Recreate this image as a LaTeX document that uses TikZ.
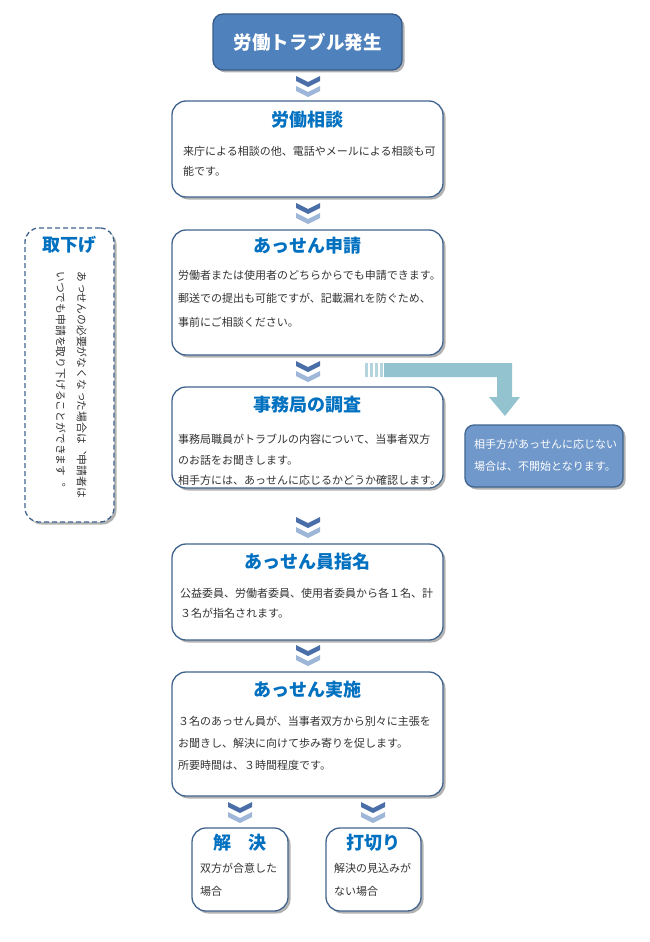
\documentclass[tikz,border=0pt]{standalone}
\usepackage{fontspec}
\setmainfont{Noto Sans CJK JP}
\newfontfamily\vjp[Vertical=RotatedGlyphs]{Noto Sans CJK JP}
\usetikzlibrary{shadows}
\definecolor{bord}{HTML}{41648F}
\definecolor{topfill}{HTML}{4F81BD}
\definecolor{topbord}{HTML}{385D8A}
\definecolor{ttlblue}{HTML}{0070C0}
\definecolor{chevdark}{HTML}{4A6EA8}
\definecolor{chevlight}{HTML}{9EB6D8}
\definecolor{arrowteal}{HTML}{93C3CF}
\definecolor{smallfill}{HTML}{7098CA}
\definecolor{txt}{HTML}{333333}
\tikzset{
  shd/.style={drop shadow={shadow xshift=2.5pt,shadow yshift=-2.5pt,fill=black,opacity=0.3}},
  mainbox/.style={draw=bord, line width=1.3pt, fill=white, rounded corners=14pt, shd, minimum width=271pt},
  ttl/.style={font=\fontsize{18}{20}\selectfont\bfseries, text=ttlblue, inner sep=0pt},
  bodytext/.style={font=\fontsize{11}{#1}\selectfont, text=txt, align=left, text width=268pt, inner sep=0pt, anchor=north west},
  chev/.pic={
    \fill[chevdark] (-12,0) -- (0,6) -- (12,0) -- (12,5) -- (0,11) -- (-12,5) -- cycle;
    \fill[chevlight] (-12,10) -- (0,16) -- (12,10) -- (12,15) -- (0,21) -- (-12,15) -- cycle;
  }
}
\begin{document}
\begin{tikzpicture}[x=1pt,y=-1pt]
\useasboundingbox (0,0) rectangle (650,942);

% top box
\node[draw=topbord, line width=1.3pt, fill=topfill, rounded corners=10pt, shd,
      minimum width=189pt, minimum height=56pt, text=white,
      font=\fontsize{18.5}{20}\selectfont\bfseries] (start) at (307.5,42) {労働トラブル発生};

% chevrons
\pic at (308,76) {chev};
\pic at (308,203) {chev};
\pic at (308,361) {chev};
\pic at (308,517) {chev};
\pic at (308,645) {chev};
\pic at (240,802) {chev};
\pic at (373,802) {chev};

% 労働相談
\node[mainbox, minimum height=96pt] (soudan) at (307.5,149) {};
\node[ttl] (soudanT) at (307.5,120) {労働相談};
\node[bodytext=20pt] (soudanB) at (183,146) {来庁による相談の他、電話やメールによる相談も可\\能です。};

% あっせん申請
\node[mainbox, minimum height=125pt] (shinsei) at (307.5,292.5) {};
\node[ttl] (shinseiT) at (307.5,246) {あっせん申請};
\node[bodytext=23.5pt] (shinseiB) at (178,270) {労働者または使用者のどちらからでも申請できます。\\郵送での提出も可能ですが、記載漏れを防ぐため、\\事前にご相談ください。};

% 事務局の調査
\node[mainbox, minimum height=101pt] (chousa) at (307.5,437.5) {};
\node[ttl] (chousaT) at (307.5,405) {事務局の調査};
\node[bodytext=20.5pt] (chousaB) at (178,434) {事務局職員がトラブルの内容について、当事者双方\\のお話をお聞きします。\\相手方には、あっせんに応じるかどうか確認します。};

% あっせん員指名
\node[mainbox, minimum height=96pt] (shimei) at (307.5,592) {};
\node[ttl] (shimeiT) at (307.5,562) {あっせん員指名};
\node[bodytext=20pt] (shimeiB) at (180,588) {公益委員、労働者委員、使用者委員から各１名、計\\３名が指名されます。};

% あっせん実施
\node[mainbox, minimum height=124pt] (jisshi) at (307.5,734) {};
\node[ttl] (jisshiT) at (307.5,690) {あっせん実施};
\node[bodytext=22pt] (jisshiB) at (178,716) {３名のあっせん員が、当事者双方から別々に主張を\\お聞きし、解決に向けて歩み寄りを促します。\\所要時間は、３時間程度です。};

% 解決
\node[mainbox, minimum width=96pt, minimum height=83pt] (kaiketsu) at (240,869.5) {};
\node[ttl] (kaiketsuT) at (240,843) {解\hspace{0.9em}決};
\node[bodytext=23pt, text width=90pt] (kaiketsuB) at (200,863) {双方が合意した\\場合};

% 打切り
\node[mainbox, minimum width=95pt, minimum height=83pt] (uchikiri) at (373.5,869.5) {};
\node[ttl] (uchikiriT) at (373.5,843) {打切り};
\node[bodytext=23pt, text width=90pt] (uchikiriB) at (334,863) {解決の見込みが\\ない場合};

% 取下げ
\node[draw=bord, line width=1.3pt, dash pattern=on 5pt off 3pt, fill=white, rounded corners=14pt, shd,
      minimum width=89pt, minimum height=294pt] (torisage) at (69.5,375) {};
\node[ttl] (torisageT) at (69.5,245) {取下げ};
\node[rotate=-90, anchor=north west, inner sep=0pt, text=txt, align=left,
      font=\vjp\fontsize{10.8}{21}\selectfont] (torisageB) at (87,271)
      {あっせんの必要がなくなった場合は、申請者は\\いつでも申請を取り下げることができます。};

% 不開始
\node[draw=bord, line width=1.3pt, fill=smallfill, rounded corners=9pt, shd,
      minimum width=158pt, minimum height=62pt] (fukaishi) at (544,456) {};
\node[font=\fontsize{11}{22}\selectfont, text=white, align=left, text width=150pt, inner sep=0pt, anchor=north west]
      (fukaishiB) at (474,439) {相手方があっせんに応じない\\場合は、不開始となります。};

% side arrow
\coordinate (arrS) at (384,363);
\coordinate (arrTip) at (505,416);
\fill[arrowteal] (arrS) -- (512,363) -- (512,397) -- (520,397) -- (arrTip) -- (489,397) -- (497,397) -- (497,377) -- (384,377) -- cycle;
\foreach \a in {365,370,375,380}
  \fill[arrowteal!70] (\a,363) rectangle (\a+3,377);
\end{tikzpicture}
\end{document}
